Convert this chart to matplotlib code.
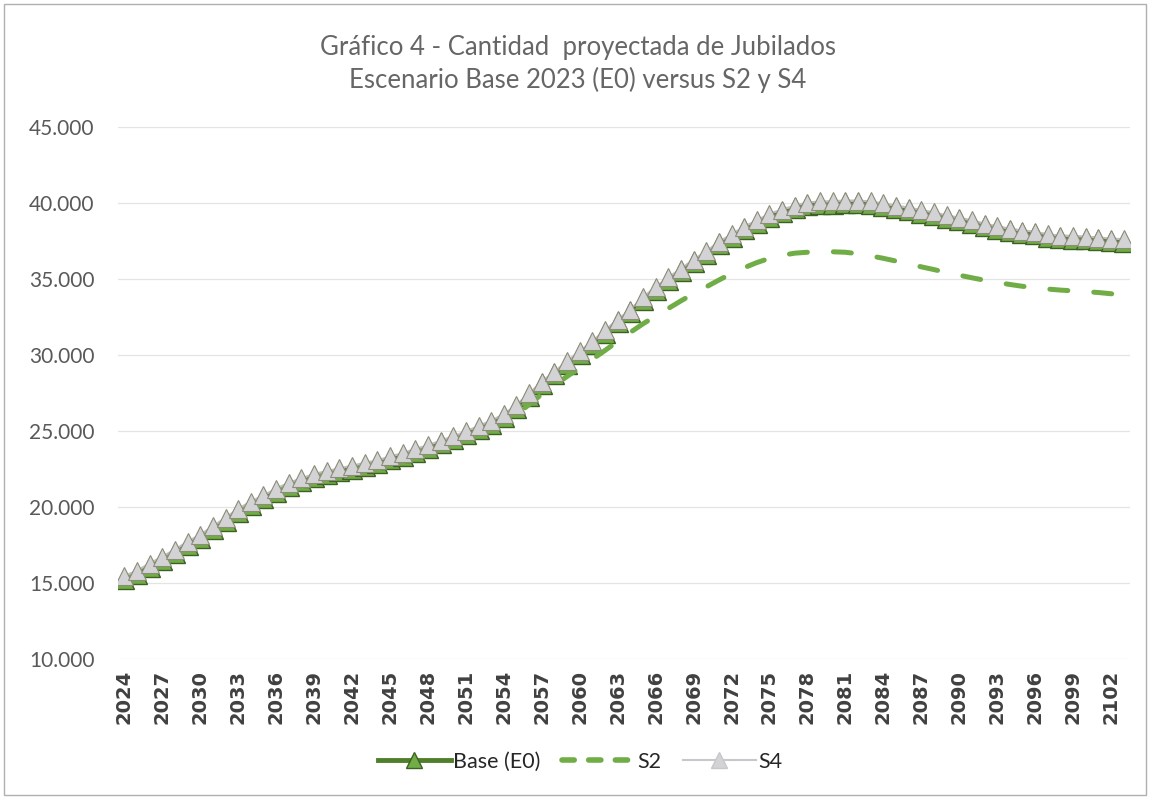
import matplotlib
matplotlib.use("Agg")
import matplotlib.pyplot as plt
from matplotlib.lines import Line2D
from matplotlib.patches import Rectangle
from matplotlib.ticker import FuncFormatter, FixedLocator

years = list(range(2024, 2104))

base_e0 = [15250, 15620, 16080, 16540, 17000, 17520, 17990, 18520, 19100, 19680,
           20160, 20560, 21010, 21400, 21690, 21990, 22170, 22350, 22530, 22710,
           22880, 23140, 23340, 23640, 23860, 24180, 24450, 24780, 25140, 25490,
           25920, 26530, 27280, 28060, 28720, 29390, 30060, 30710, 31450, 32140,
           32800, 33610, 34290, 34910, 35500, 36090, 36620, 37270, 37740, 38260,
           38660, 39110, 39380, 39640, 39840, 39910, 39930, 39970, 39970, 39910,
           39780, 39640, 39510, 39350, 39190, 38990, 38850, 38660, 38460, 38270,
           38130, 38000, 37930, 37740, 37670, 37650, 37600, 37540, 37470, 37430]

s2 = [15250, 15620, 16080, 16540, 17000, 17520, 17990, 18520, 19100, 19680,
      20160, 20560, 21010, 21400, 21690, 21990, 22170, 22350, 22530, 22710,
      22880, 23140, 23340, 23640, 23860, 24180, 24430, 24740, 25060, 25310,
      25550, 26080, 26740, 27420, 28000, 28590, 29150, 29720, 30300, 30900,
      31490, 32050, 32560, 33060, 33560, 34040, 34480, 34930, 35360, 35740,
      36080, 36360, 36560, 36700, 36760, 36790, 36790, 36760, 36660, 36520,
      36360, 36180, 35990, 35800, 35620, 35430, 35250, 35080, 34920, 34770,
      34640, 34520, 34420, 34340, 34270, 34220, 34170, 34110, 34030, 33930]

s4 = [15450, 15820, 16280, 16740, 17200, 17720, 18190, 18720, 19300, 19880,
      20360, 20760, 21210, 21600, 21880, 22180, 22360, 22540, 22720, 22900,
      23070, 23330, 23530, 23830, 24050, 24370, 24640, 24970, 25330, 25680,
      26110, 26720, 27470, 28250, 28910, 29580, 30250, 30900, 31640, 32330,
      32990, 33800, 34480, 35100, 35690, 36280, 36810, 37460, 37930, 38450,
      38850, 39300, 39570, 39830, 40030, 40100, 40120, 40160, 40160, 40100,
      39970, 39830, 39700, 39540, 39380, 39180, 39040, 38850, 38650, 38460,
      38320, 38190, 38120, 37930, 37860, 37840, 37790, 37730, 37660, 37620]

title_lines = ["Gráfico 4 - Cantidad  proyectada de Jubilados",
               "Escenario Base 2023 (E0) versus S2 y S4"]
series_labels = ["Base (E0)", "S2", "S4"]
y_ticks = [10000, 15000, 20000, 25000, 30000, 35000, 40000, 45000]
x_label_years = list(range(2024, 2104, 3))

plt.rcParams['font.family'] = ['Lato', 'DejaVu Sans']

fig = plt.figure(figsize=(11.5, 7.99), dpi=100)
ax = fig.add_axes([118/1150, 1-659/799, (1130-118)/1150, (659-127)/799])

x = list(range(len(years)))

green_dark = '#4f7f2a'
green_light = '#70ad47'
gray_fill = '#d3d3d6'

ax.plot(x, base_e0, color=green_dark, lw=2.8, marker='^', markersize=14,
        markerfacecolor=green_light, markeredgecolor='#3d6121', markeredgewidth=1.0,
        zorder=3, label=series_labels[0])
ax.plot(x, s2, color=green_light, lw=3.6, dashes=(3.6, 5.2), dash_capstyle='round',
        zorder=4, label=series_labels[1])
ax.plot(x, s4, color='#bdbdbd', lw=1.5, marker='^', markersize=13.5,
        markerfacecolor=gray_fill, markeredgecolor='#8c8c78', markeredgewidth=0.8,
        zorder=5, label=series_labels[2])

ax.set_xlim(-0.5, len(years) - 0.5)
ax.set_ylim(10000, 45000)
ax.yaxis.set_major_locator(FixedLocator(y_ticks))
ax.yaxis.set_major_formatter(FuncFormatter(lambda v, p: f"{int(v):,}".replace(",", ".")))
ax.grid(axis='y', color='#e4e4e4', lw=0.9)
ax.set_axisbelow(True)
for sp in ax.spines.values():
    sp.set_visible(False)

tick_pos = [years.index(y) for y in x_label_years]
ax.set_xticks(tick_pos)
ax.set_xticklabels([str(y) for y in x_label_years], rotation=90,
                   fontfamily='DejaVu Sans', fontweight='bold', fontsize=14,
                   color='#404040')
ax.tick_params(axis='x', length=0, pad=8)
ax.tick_params(axis='y', length=0, pad=17, labelsize=15, labelcolor='#595959')

fig.text(578/1150, 1-47/799, title_lines[0], ha='center', va='center',
         fontsize=18.5, color='#666666')
fig.text(578/1150, 1-80/799, title_lines[1], ha='center', va='center',
         fontsize=18.5, color='#666666')

handles = [
    Line2D([], [], color=green_dark, lw=3.5, marker='^', markersize=12,
           markerfacecolor=green_light, markeredgecolor='#3d6121'),
    Line2D([], [], color=green_light, lw=4, dashes=(2.2, 2.6), dash_capstyle='round'),
    Line2D([], [], color='#c8c8cc', lw=1.5, marker='^', markersize=12,
           markerfacecolor=gray_fill, markeredgecolor='#c8c8cc'),
]
fig.legend(handles, series_labels, loc='center', bbox_to_anchor=(580/1150, 1-762/799),
           ncol=3, frameon=False, fontsize=15.5, handlelength=3.4, handletextpad=0.1,
           columnspacing=1.0, labelcolor='#262626')

fig.patches.append(Rectangle((4/1150, 4/799), 1142/1150, 791/799, transform=fig.transFigure,
                             fill=False, edgecolor='#b0b0b0', lw=1.0))

fig.savefig('out.png', dpi=100)
